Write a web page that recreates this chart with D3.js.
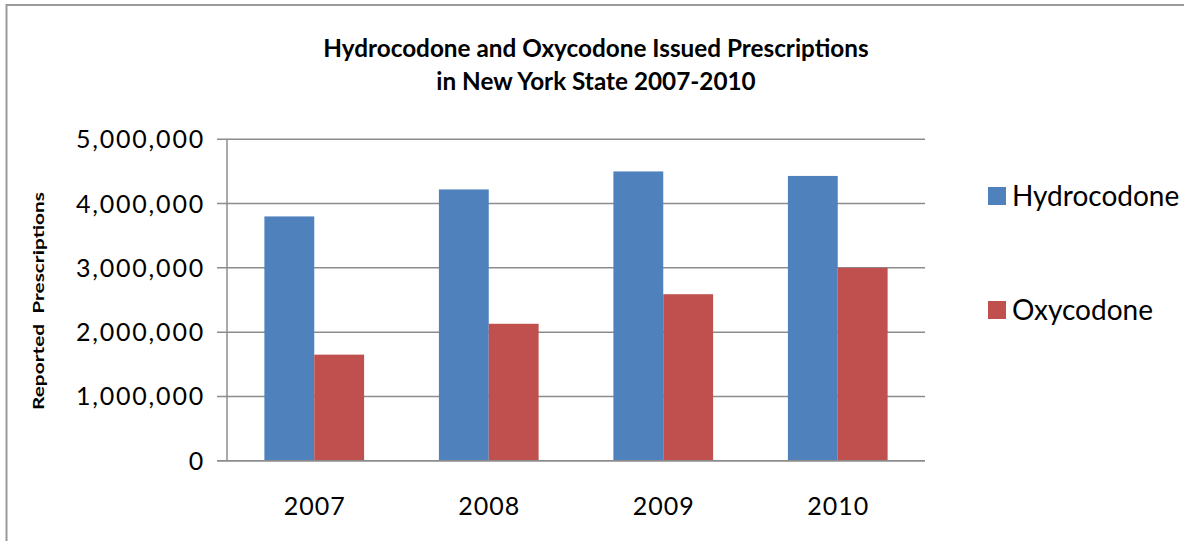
<!DOCTYPE html>
<html>
<head>
<meta charset="utf-8">
<script src="https://cdn.jsdelivr.net/npm/d3@7"></script>
<style>
  html, body { margin: 0; padding: 0; background: #fff; }
  text { font-family: Lato, "Open Sans", sans-serif; fill: #000; }
</style>
</head>
<body>
<script>
// data
const years = ['2007', '2008', '2009', '2010'];
const series = ['Hydrocodone', 'Oxycodone'];
const hydrocodone = [3800000, 4220000, 4500000, 4430000];
const oxycodone = [1650000, 2130000, 2590000, 3000000];
const yTicks = [0, 1000000, 2000000, 3000000, 4000000, 5000000];
const colors = ['#4F81BD', '#C0504D'];

const width = 1184;
const height = 541;
const plot = { left: 227, right: 925, top: 139.3, bottom: 460.7 };

const svg = d3.select(document.body)
  .append('svg')
  .attr('width', width)
  .attr('height', height);

// chart frame (right and bottom edges fall outside the picture)
svg.append('rect')
  .attr('x', 6.5)
  .attr('y', 5)
  .attr('width', width + 20)
  .attr('height', height + 20)
  .style('fill', 'none')
  .style('stroke', '#9a9a9a')
  .style('stroke-width', 2);

// title
const title = svg.append('text')
  .attr('text-anchor', 'middle')
  .style('font-size', '24.3px')
  .style('font-weight', 'bold');
title.append('tspan').attr('x', 596).attr('y', 57)
  .text('Hydrocodone and Oxycodone Issued Prescriptions');
title.append('tspan').attr('x', 596).attr('y', 90)
  .text('in New York State 2007-2010');

const x0 = d3.scaleBand()
  .domain(years)
  .range([plot.left, plot.right])
  .paddingInner(1.5 / 3.5)
  .paddingOuter(0.75 / 3.5);

const x1 = d3.scaleBand()
  .domain(series)
  .range([0, x0.bandwidth()]);

const y = d3.scaleLinear()
  .domain([0, 5000000])
  .range([plot.bottom, plot.top]);

// gridlines
svg.selectAll('line.grid')
  .data(yTicks)
  .enter()
  .append('line')
  .attr('class', 'grid')
  .attr('x1', plot.left - 10)
  .attr('x2', plot.right)
  .attr('y1', d => y(d))
  .attr('y2', d => y(d))
  .style('stroke', '#8c8c8c')
  .style('stroke-width', 1.5);

// y axis line
svg.append('line')
  .attr('x1', plot.left)
  .attr('x2', plot.left)
  .attr('y1', y(5000000))
  .attr('y2', y(0))
  .style('stroke', '#8c8c8c')
  .style('stroke-width', 1.5);

// bars
const rows = years.map((yr, i) => ({ year: yr, values: [hydrocodone[i], oxycodone[i]] }));

const groups = svg.selectAll('g.year')
  .data(rows)
  .enter()
  .append('g')
  .attr('transform', d => `translate(${x0(d.year)},0)`);

groups.selectAll('rect')
  .data(d => d.values.map((v, j) => ({ key: series[j], value: v, color: colors[j] })))
  .enter()
  .append('rect')
  .attr('x', d => x1(d.key))
  .attr('y', d => y(d.value))
  .attr('width', x1.bandwidth())
  .attr('height', d => y(0) - y(d.value))
  .style('fill', d => d.color);

// baseline on top of bars
svg.append('line')
  .attr('x1', plot.left - 10)
  .attr('x2', plot.right)
  .attr('y1', y(0))
  .attr('y2', y(0))
  .style('stroke', '#8c8c8c')
  .style('stroke-width', 1.5);

// y tick labels
svg.selectAll('text.ytick')
  .data(yTicks)
  .enter()
  .append('text')
  .attr('class', 'ytick')
  .attr('x', 205)
  .attr('y', d => y(d) + 9)
  .attr('text-anchor', 'end')
  .style('font-size', '25px')
  .style('letter-spacing', '1.8px')
  .text(d => d3.format(',')(d));

// x tick labels
svg.selectAll('text.xtick')
  .data(years)
  .enter()
  .append('text')
  .attr('class', 'xtick')
  .attr('x', d => x0(d) + x0.bandwidth() / 2 + 0.5)
  .attr('y', 515)
  .attr('text-anchor', 'middle')
  .style('font-size', '25px')
  .style('letter-spacing', '1px')
  .text(d => d);

// y axis title
svg.append('text')
  .attr('transform', 'translate(44,301) rotate(-90)')
  .attr('text-anchor', 'middle')
  .attr('textLength', 218)
  .attr('lengthAdjust', 'spacingAndGlyphs')
  .style('font-size', '16px')
  .style('font-weight', 'bold')
  .style('white-space', 'pre')
  .text('Reported  Prescriptions');

// legend
const legend = svg.selectAll('g.legend')
  .data(series)
  .enter()
  .append('g')
  .attr('transform', (d, i) => `translate(988,${187 + i * 114})`);

legend.append('rect')
  .attr('width', 18)
  .attr('height', 18)
  .style('fill', (d, i) => colors[i]);

legend.append('text')
  .attr('x', 24)
  .attr('y', 19)
  .style('font-size', '28px')
  .text(d => d);
</script>
</body>
</html>
